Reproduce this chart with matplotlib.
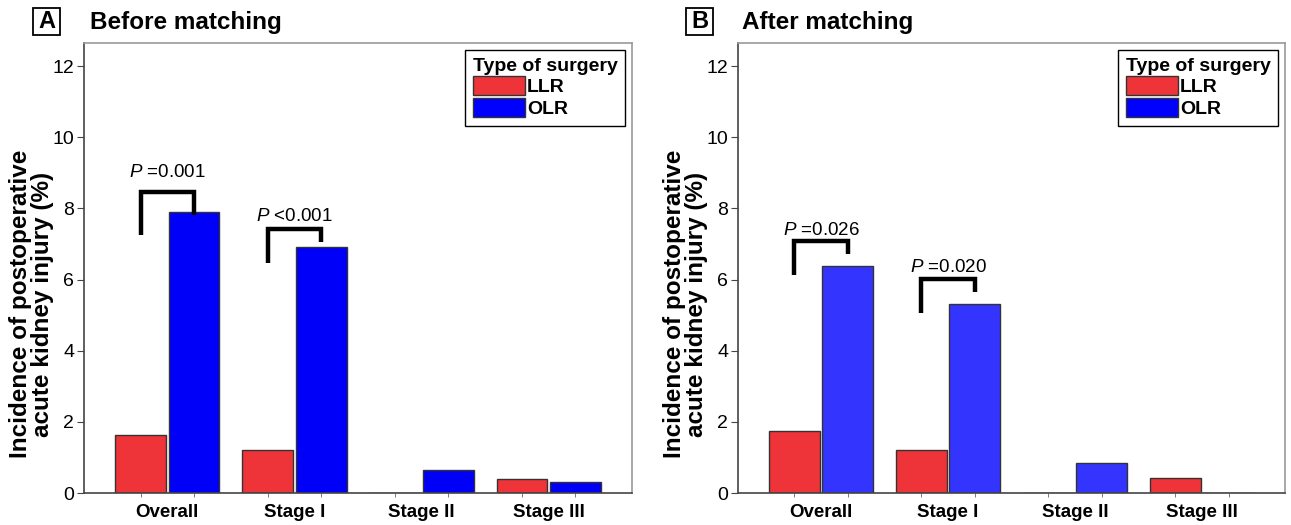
import numpy as np
import matplotlib
matplotlib.use("Agg")
import matplotlib.pyplot as plt
from matplotlib.patches import Rectangle, Patch

plt.rcParams['font.family'] = ['Liberation Sans', 'DejaVu Sans']
plt.rcParams['mathtext.fontset'] = 'custom'
plt.rcParams['mathtext.it'] = 'Liberation Sans:italic'
plt.rcParams['mathtext.rm'] = 'Liberation Sans'

# data
stages = ["Overall", "Stage I", "Stage II", "Stage III"]
series = ["LLR", "OLR"]
before_llr = [1.62, 1.21, 0.0, 0.39]
before_olr = [7.89, 6.91, 0.64, 0.31]
after_llr = [1.74, 1.21, 0.0, 0.41]
after_olr = [6.38, 5.31, 0.83, 0.0]

# significance brackets: stage index, left leg end, top, right leg end, text baseline, label
before_sig = [(0, 7.25, 8.46, 7.81, 8.88, "=0.001"),
              (1, 6.46, 7.42, 7.05, 7.64, "<0.001")]
after_sig = [(0, 6.12, 7.09, 6.71, 7.25, "=0.026"),
             (1, 5.06, 6.01, 5.65, 6.21, "=0.020")]

yticks = [0, 2, 4, 6, 8, 10, 12]
ylabel = "Incidence of postoperative\nacute kidney injury (%)"

RED = "#EE3339"
BLUE_A = "#0000F8"
BLUE_B = "#3434FF"

W, H = 1291, 525
fig = plt.figure(figsize=(W / 100, H / 100), dpi=100)


def panel(rect, llr, olr, sig, blue, letter, title, letter_x, box_x, label_x):
    ax = fig.add_axes(rect)
    x = np.arange(len(stages))
    off, bw = 0.21, 0.40
    ax.bar(x - off, llr, bw, color=RED, edgecolor="#333333", linewidth=1, zorder=2)
    ax.bar(x + off, olr, bw, color=blue, edgecolor="#333333", linewidth=1, zorder=2)

    ax.set_xlim(-0.655, 3.655)
    ax.set_ylim(0, 12.65)
    ax.set_yticks(yticks)
    ax.set_yticklabels([str(t) for t in yticks], fontsize=14)
    ax.set_xticks(x)
    ax.set_xticklabels(stages, fontsize=13.5, fontweight="bold")
    ax.set_xticks(np.concatenate([x - off, x + off]), minor=True)
    ax.tick_params(axis="x", which="major", length=0, pad=8)
    ax.tick_params(axis="x", which="minor", length=3, color="#666666")
    ax.tick_params(axis="y", length=5, pad=2, color="#444444")
    for s in ["left", "bottom"]:
        ax.spines[s].set_color("#444444")
        ax.spines[s].set_linewidth(1.2)
    for s in ["top", "right"]:
        ax.spines[s].set_color("#999999")
        ax.spines[s].set_linewidth(1.2)

    ax.set_ylabel(ylabel, fontsize=17.5, fontweight="bold", linespacing=0.95)
    ax.yaxis.set_label_coords(label_x, 0.42)

    for i, lo, top, ro, ty, txt in sig:
        ax.plot([i - off, i - off, i + off, i + off], [lo, top, top, ro],
                color="black", lw=3.2, solid_joinstyle="miter", solid_capstyle="butt", zorder=3)
        ax.text(i, ty, r"$\mathit{P}$ " + txt, ha="center", va="baseline", fontsize=13.5)

    handles = [Patch(facecolor=RED, edgecolor="#333333", label=series[0]),
               Patch(facecolor="#0000FF", edgecolor="#333333", label=series[1])]
    leg = ax.legend(handles=handles, loc="upper right", title="Type of surgery",
                    fontsize=14, title_fontproperties={"weight": "bold", "size": 14},
                    fancybox=False, edgecolor="black", framealpha=1, borderpad=0.4,
                    handlelength=2.7, handleheight=1.15, handletextpad=0.1,
                    labelspacing=0.08, borderaxespad=0.35, alignment="left")
    leg.get_frame().set_linewidth(1.0)
    for t in leg.get_texts():
        t.set_fontweight("bold")

    fig.add_artist(Rectangle((box_x / W, 1 - 35 / H), 27 / W, 27 / H,
                             transform=fig.transFigure, fill=False,
                             edgecolor="black", linewidth=1.3))
    fig.text((box_x + 13.5) / W, 1 - 21.5 / H, letter, ha="center", va="center",
             fontsize=17, fontweight="bold")
    fig.text(letter_x / W, 1 - 22 / H, title, ha="left", va="center",
             fontsize=17.5, fontweight="bold")
    return ax


bottom = (H - 493) / H
height = 450 / H
panel([84 / W, bottom, 548 / W, height], before_llr, before_olr, before_sig,
      BLUE_A, "A", "Before matching", 90, 33, -0.055)
panel([738 / W, bottom, 547 / W, height], after_llr, after_olr, after_sig,
      BLUE_B, "B", "After matching", 742, 686, -0.054)

fig.savefig("out.png", dpi=100)
